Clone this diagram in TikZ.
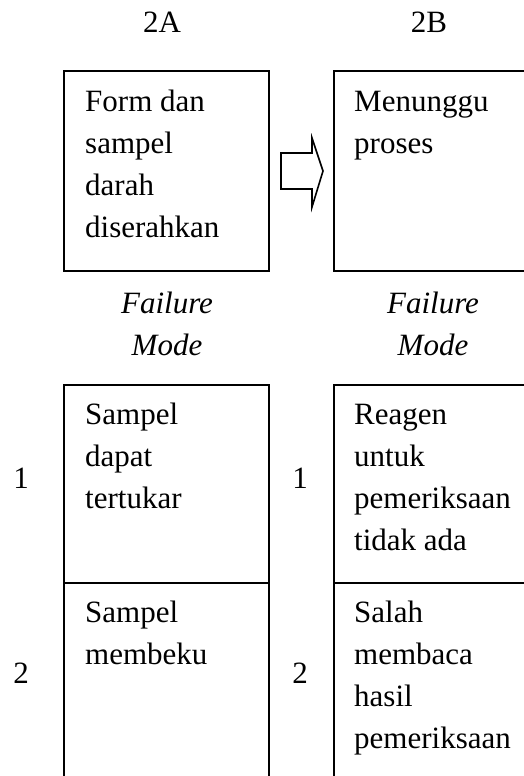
\documentclass[tikz,border=0pt]{standalone}
\usepackage{fontspec}
\setmainfont{Liberation Serif}
\usepackage{tikz}

\newcommand{\lefttext}[1]{\begin{tabular}[t]{@{}l@{}}#1\end{tabular}}
\newcommand{\midtext}[1]{\begin{tabular}[t]{@{}c@{}}#1\end{tabular}}

\tikzset{
	box/.style={shape=rectangle,draw=black,line width=2pt,inner sep=0pt,anchor=north west},
	txt/.style={anchor=base west,inner sep=0pt,font=\fontsize{31}{42}\selectfont},
	lbl/.style={anchor=base,inner sep=0pt,font=\fontsize{31}{42}\selectfont},
	fm/.style={anchor=base,inner sep=0pt,font=\fontsize{31}{42}\selectfont\itshape}
}

\begin{document}
\begin{tikzpicture}[x=1pt,y=-1pt]
	\useasboundingbox (0,0) rectangle (523,776);

	% column headings
	\node[lbl] (ha) at (162, 33)  {2A};
	\node[lbl] (hb) at (429, 33)  {2B};

	% process steps
	\node[box,minimum width=205pt,minimum height=200pt] (pa) at (63, 70)  {};
	\node[box,minimum width=205pt,minimum height=200pt] (pb) at (333, 70) {};
	\node[txt] (ta) at (85, 111)  {\lefttext{Form dan\\sampel\\darah\\diserahkan}};
	\node[txt] (tb) at (354, 111) {\lefttext{Menunggu\\proses}};

	% block arrow
	\draw[line width=1.6pt,line join=miter]
		(281,153) -- (312,153) -- (312,138) -- (323,171) -- (312,207)
		-- (312,189) -- (281,189) -- cycle;

	\node[fm] (fa) at (167, 313) {\midtext{Failure\\Mode}};
	\node[fm] (fb) at (433, 313) {\midtext{Failure\\Mode}};

	% failure modes
	\node[box,minimum width=205pt,minimum height=198pt] (ma1) at (63, 384)  {};
	\node[box,minimum width=205pt,minimum height=200pt] (ma2) at (63, 582)  {};
	\node[box,minimum width=205pt,minimum height=198pt] (mb1) at (333, 384) {};
	\node[box,minimum width=205pt,minimum height=200pt] (mb2) at (333, 582) {};

	\node[lbl] (na1) at (21, 488)  {1};
	\node[lbl] (na2) at (21, 683)  {2};
	\node[lbl] (nb1) at (300, 488) {1};
	\node[lbl] (nb2) at (300, 683) {2};

	\node[txt] (sa1) at (85, 424)  {\lefttext{Sampel\\dapat\\tertukar}};
	\node[txt] (sa2) at (85, 622)  {\lefttext{Sampel\\membeku}};
	\node[txt] (sb1) at (354, 424) {\lefttext{Reagen\\untuk\\pemeriksaan\\tidak ada}};
	\node[txt] (sb2) at (354, 622) {\lefttext{Salah\\membaca\\hasil\\pemeriksaan}};
\end{tikzpicture}
\end{document}
